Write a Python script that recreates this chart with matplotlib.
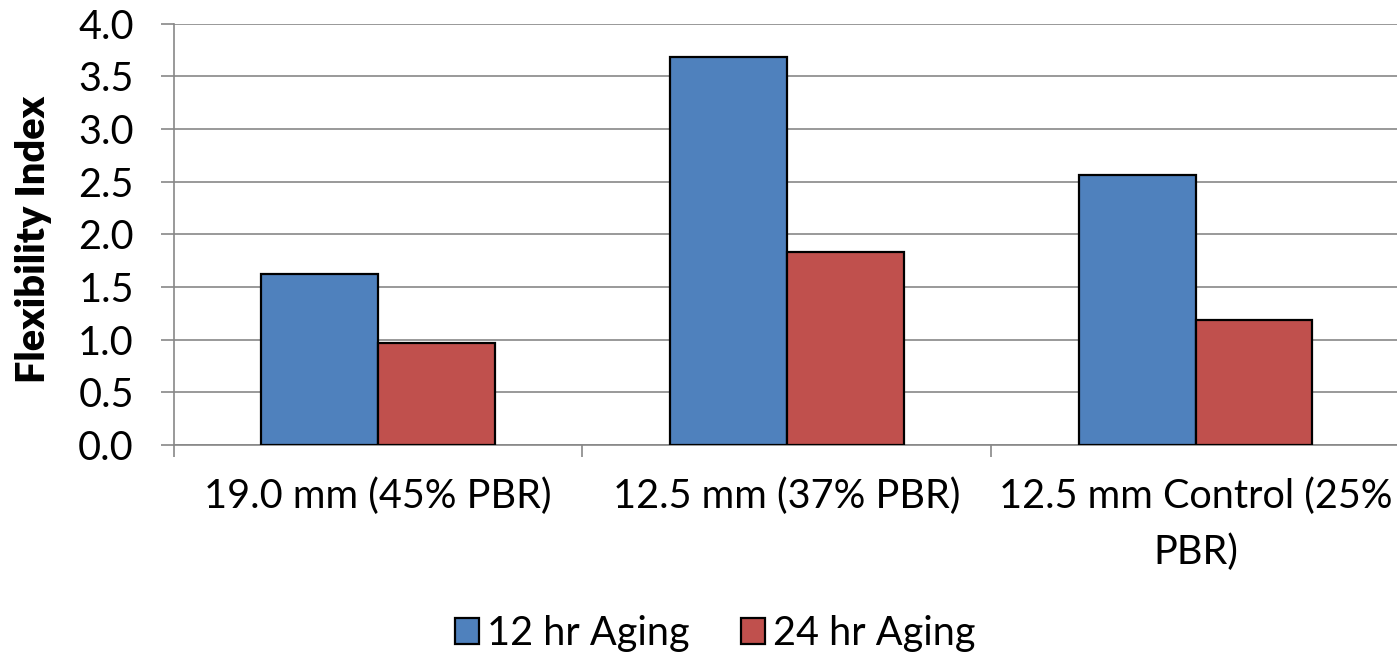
import numpy as np
import matplotlib
matplotlib.use("Agg")
import matplotlib.pyplot as plt
from matplotlib.patches import Patch

# ---------------- DATA ---------------- #

categories = ["19.0 mm (45% PBR)", "12.5 mm (37% PBR)", "12.5 mm Control (25%\nPBR)"]
aging_12hr = [1.62, 3.68, 2.56]
aging_24hr = [0.97, 1.83, 1.19]
series_names = ["12 hr Aging", "24 hr Aging"]

# ---------------- STYLE ---------------- #

plt.rcParams['font.family'] = ['Lato', 'DejaVu Sans']
blue = "#4F81BD"
red = "#C0504D"
grid_gray = "#878787"
fs = 28.5

fig = plt.figure(figsize=(13.97, 6.53), dpi=100)
ax = fig.add_axes([0.1242, 0.3185, 0.878, 0.6455])

x = np.arange(len(categories))
w = 1 / 3.5

ax.bar(x - w / 2, aging_12hr, width=w, color=blue, edgecolor="black", linewidth=1.6, zorder=3)
ax.bar(x + w / 2, aging_24hr, width=w, color=red, edgecolor="black", linewidth=1.6, zorder=3)

ax.set_xlim(-0.5, 2.5)
ax.set_ylim(0, 4.0)
ax.set_yticks(np.arange(0, 4.01, 0.5))
ax.set_yticklabels([f"{v:.1f}" for v in np.arange(0, 4.01, 0.5)], fontsize=fs)

# category boundaries as major ticks, labels on minor ticks
ax.set_xticks([-0.5, 0.5, 1.5, 2.5])
ax.set_xticklabels([])
ax.set_xticks(x, minor=True)
ax.set_xticklabels(categories, minor=True, fontsize=fs, linespacing=1.6)
ax.tick_params(axis="x", which="major", direction="out", length=8.5, width=1.2, color=grid_gray)
ax.tick_params(axis="x", which="minor", length=0, pad=23)
ax.tick_params(axis="y", direction="out", length=9.5, width=1.2, color=grid_gray, pad=19)

ax.yaxis.grid(True, color=grid_gray, linewidth=1.2, zorder=0)
ax.set_axisbelow(True)

for side in ["top", "right"]:
    ax.spines[side].set_visible(False)
for side in ["left", "bottom"]:
    ax.spines[side].set_color(grid_gray)
    ax.spines[side].set_linewidth(1.2)

ax.set_ylabel("Flexibility Index", fontsize=fs, fontweight="heavy")
ax.yaxis.set_label_coords(-0.099, 0.487)

handles = [Patch(facecolor=blue, edgecolor="black", linewidth=1.6),
           Patch(facecolor=red, edgecolor="black", linewidth=1.6)]
fig.legend(handles, series_names, loc="center", bbox_to_anchor=(0.512, 0.03), ncol=2,
           frameon=False, fontsize=fs, handlelength=0.6, handleheight=0.6,
           handletextpad=0.2, columnspacing=1.3)

fig.savefig("out.png", dpi=100)
